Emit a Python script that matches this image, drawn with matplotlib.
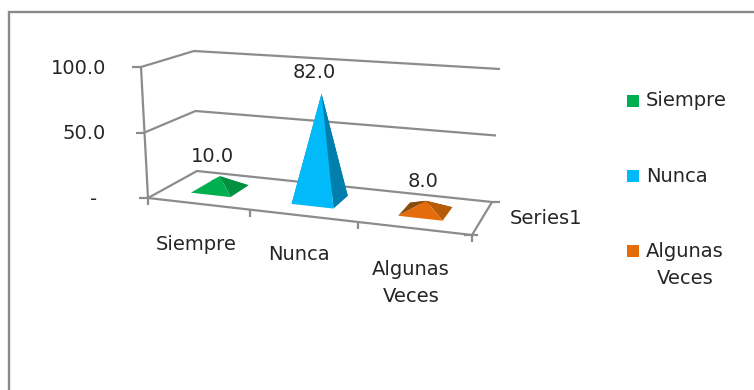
import numpy as np
import matplotlib
matplotlib.use("Agg")
import matplotlib.pyplot as plt
from matplotlib.patches import Polygon, Rectangle

plt.rcParams["font.family"] = ["DejaVu Sans"]

# Chart data
categories = ["Siempre", "Nunca", "Algunas\nVeces"]
values = [10.0, 82.0, 8.0]
value_ticks = [0, 50, 100]
value_tick_labels = ["-", "50.0", "100.0"]
series_name = "Series1"

face_colors = ["#00B050", "#00BAFA", "#E46C0A"]
side_colors = ["#00903F", "#007FAC", "#B85A08"]
left_colors = ["#00B050", "#007FAC", "#8A4A0E"]

W, H = 754, 390
AXIS = "#8C8C8C"
TEXT = "#262626"
FS = 14


def homography(src, dst):
    """Projective map taking four (u, v) points onto four pixel points."""
    rows, rhs = [], []
    for (u, v), (x, y) in zip(src, dst):
        rows.append([u, v, 1, 0, 0, 0, -u * x, -v * x])
        rows.append([0, 0, 0, u, v, 1, -u * y, -v * y])
        rhs += [x, y]
    return np.append(np.linalg.solve(np.array(rows, float), np.array(rhs, float)), 1).reshape(3, 3)


# The 3D box: u runs along categories (0-3), v runs front to back (0-1)
unit_square = [(0, 0), (3, 0), (3, 1), (0, 1)]
floor_map = homography(unit_square, [(148, 198), (472, 235), (492, 202), (197, 171)])

# Pixel offset of the 100 level above each floor corner
rise = {(0, 0): (-7, -131), (1, 0): (9, -134), (1, 1): (8, -133), (0, 1): (-3, -120)}


def project(u, v, z):
    a = floor_map @ np.array([u, v, 1.0])
    s = u / 3
    d = sum(np.array(rise[k]) * (s if k[0] else 1 - s) * (v if k[1] else 1 - v) for k in rise)
    return a[:2] / a[2] + d * z / 100


fig = plt.figure(figsize=(W / 100, H / 100), dpi=100)
ax = fig.add_axes([0, 0, 1, 1])
ax.set_xlim(0, W)
ax.set_ylim(H, 0)
ax.axis("off")

# Chart frame: top and left edges reach the border of the image
ax.plot([9, 9, W + 2], [H + 2, 12, 12], color="#8A8A8A", lw=1.7, solid_joinstyle="miter")


def line(points, lw=1.6):
    pts = np.array(points)
    ax.plot(pts[:, 0], pts[:, 1], color=AXIS, lw=lw, solid_capstyle="butt")


# Gridlines on side and back walls
for z in value_ticks:
    line([project(0, 0, z), project(0, 1, z), project(3, 1, z)])
    a = project(0, 0, z)
    line([a, a + np.array([-9, 0])])
line([project(0, 0, 0), project(0, 0, 100)])

# Floor edges and tick marks
line([project(0, 0, 0), project(3, 0, 0), project(3, 1, 0)])
for u in range(4):
    a = project(u, 0, 0)
    line([a, a + np.array([0, 7])])
a = project(3, 1, 0)
line([a, a + np.array([8, 0])])
a = project(3, 0, 0)
line([a + np.array([-8, 0]), a + np.array([6, 0])])

# Pyramids drawn from their values, rear faces first
half_u, half_v = 0.2, 0.21
label_dx = [-8, -7, -3]
label_dy = [-20, -21, -19]
for i, (val, front, side, left) in enumerate(zip(values, face_colors, side_colors, left_colors)):
    c = i + 0.485
    fl = project(c - half_u, 0.5 - half_v, 0)
    fr = project(c + half_u, 0.5 - half_v, 0)
    br = project(c + half_u, 0.5 + half_v, 0)
    bl = project(c - half_u, 0.5 + half_v, 0)
    apex = project(c, 0.5, val)
    ax.add_patch(Polygon([bl, br, apex], closed=True, fc=left, ec="none", zorder=3))
    ax.add_patch(Polygon([fl, bl, apex], closed=True, fc=left, ec="none", zorder=3))
    ax.add_patch(Polygon([fr, br, apex], closed=True, fc=side, ec="none", zorder=3))
    ax.add_patch(Polygon([fl, fr, apex], closed=True, fc=front, ec="none", zorder=3))
    ax.text(apex[0] + label_dx[i], apex[1] + label_dy[i], f"{val:.1f}",
            ha="center", va="center", fontsize=FS, color=TEXT, zorder=4)

# Value axis labels
for z, lab in zip(value_ticks, value_tick_labels):
    y = project(0, 0, z)[1]
    x = 97 if z == 0 else 106
    ax.text(x, y + 1, lab, ha="right", va="center", fontsize=FS, color=TEXT)

# Category labels under the front edge
for (x, y), cat in zip([(196, 245), (299, 255), (411, 283)], categories):
    ax.text(x, y, cat, ha="center", va="center", fontsize=FS, color=TEXT, linespacing=1.48)
ax.text(510, 218, series_name, ha="left", va="center", fontsize=FS, color=TEXT)

# Legend
for y, col in zip([101, 176, 251], face_colors):
    ax.add_patch(Rectangle((627, y - 6), 12, 12, fc=col, ec="none"))
for y, cat in zip([101, 176, 265], categories):
    if "\n" in cat:
        ax.text(685, y, cat, ha="center", va="center", fontsize=FS, color=TEXT, linespacing=1.48)
    else:
        ax.text(646, y, cat, ha="left", va="center", fontsize=FS, color=TEXT)

fig.savefig("out.png", dpi=100, facecolor="white")
